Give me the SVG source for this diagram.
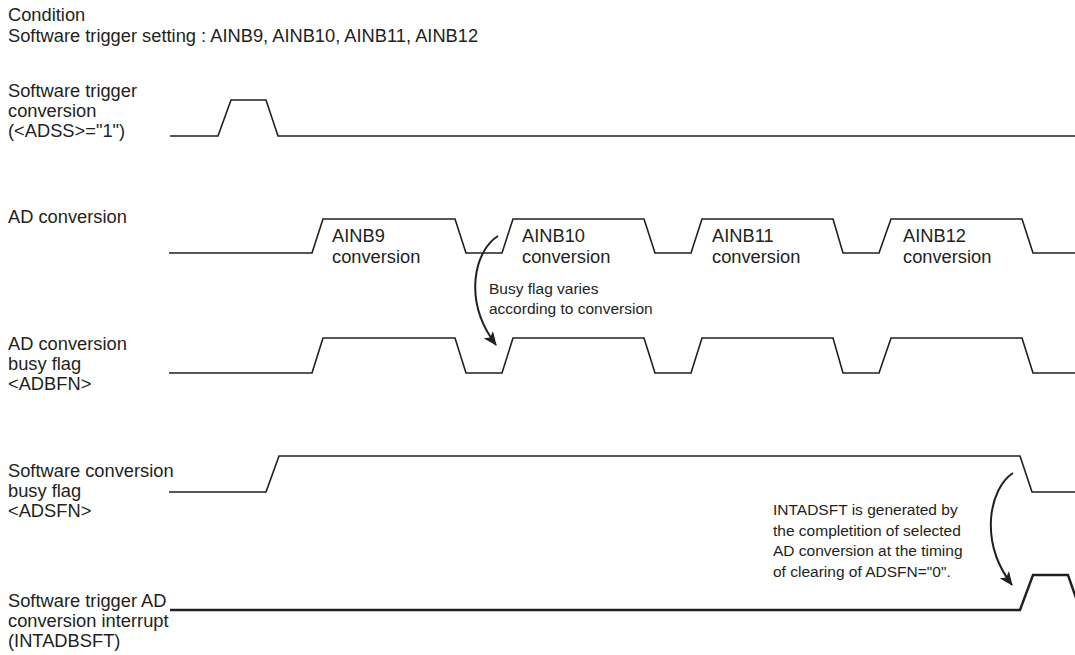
<svg xmlns="http://www.w3.org/2000/svg" width="1075" height="655" viewBox="0 0 1075 655">
<style>
text{font-family:"Liberation Sans",Arial,sans-serif;fill:#231f20}
.lbl{font-size:18.3px}
.sm{font-size:15.5px}
.wave{fill:none;stroke:#231f20;stroke-width:1.6;stroke-linejoin:miter}
.thick{stroke-width:2.4}
.arr{fill:none;stroke:#231f20;stroke-width:2}
</style>
<defs>
<marker id="ah" viewBox="0 0 14 12" refX="13" refY="6" markerWidth="14" markerHeight="12" markerUnits="userSpaceOnUse" orient="auto">
<path d="M0,0 L14,6 L0,12 L3.5,6 Z" fill="#231f20"/>
</marker>
</defs>
<rect width="1075" height="655" fill="#fff"/>
<g id="header">
<text class="lbl" x="8" y="20.5">Condition</text>
<text class="lbl" x="8" y="41.5">Software trigger setting : AINB9, AINB10, AINB11, AINB12</text>
</g>
<g id="adss">
<text class="lbl" x="8" y="97">Software trigger</text>
<text class="lbl" x="8" y="117">conversion</text>
<text class="lbl" x="8" y="137">(&lt;ADSS&gt;="1")</text>
<path class="wave" d="M170,136 H218 L231,100 H266 L278,136 H1075"/>
</g>
<g id="adconv">
<text class="lbl" x="8" y="223">AD conversion</text>
<path class="wave" d="M169,253 H312 L323,219 H455 L466,253 H502 L513,219 H644 L655,253 H691 L702,219 H833 L843,253 H879 L891,219 H1022 L1033,253 H1075"/>
<text class="lbl" x="332" y="242">AINB9</text>
<text class="lbl" x="332" y="263">conversion</text>
<text class="lbl" x="522" y="242">AINB10</text>
<text class="lbl" x="522" y="263">conversion</text>
<text class="lbl" x="712" y="242">AINB11</text>
<text class="lbl" x="712" y="263">conversion</text>
<text class="lbl" x="903" y="242">AINB12</text>
<text class="lbl" x="903" y="263">conversion</text>
</g>
<g id="adbfn">
<text class="lbl" x="8" y="350">AD conversion</text>
<text class="lbl" x="8" y="370">busy flag</text>
<text class="lbl" x="8" y="390">&lt;ADBFN&gt;</text>
<path class="wave" d="M169,373 H312 L323,338 H455 L466,373 H502 L513,338 H644 L655,373 H691 L702,338 H833 L843,373 H879 L891,338 H1022 L1033,373 H1075"/>
</g>
<g id="adsfn">
<text class="lbl" x="8" y="477">Software conversion</text>
<text class="lbl" x="8" y="497">busy flag</text>
<text class="lbl" x="8" y="517">&lt;ADSFN&gt;</text>
<path class="wave" d="M169,492 H266 L279,456 H1020 L1032,492 H1075"/>
</g>
<g id="intadbsft">
<text class="lbl" x="8" y="607">Software trigger AD</text>
<text class="lbl" x="8" y="627">conversion interrupt</text>
<text class="lbl" x="8" y="647">(INTADBSFT)</text>
<path class="wave thick" d="M170,610 H1020 L1033,575 H1068 L1076,598"/>
</g>
<g id="note-busy">
<text class="sm" x="489" y="294">Busy flag varies</text>
<text class="sm" x="489" y="314">according to conversion</text>
</g>
<g id="note-int">
<text class="sm" x="773" y="515">INTADSFT is generated by</text>
<text class="sm" x="773" y="535.5">the completition of selected</text>
<text class="sm" x="773" y="556">AD conversion at the timing</text>
<text class="sm" x="773" y="576.5">of clearing of ADSFN="0".</text>
</g>
<g id="connectors">
<path class="arr" d="M498,236 C475,250 462,300 496,345" marker-end="url(#ah)"/>
<path class="arr" d="M1013,473 C990,488 978,540 1012,585" marker-end="url(#ah)"/>
</g>
</svg>
